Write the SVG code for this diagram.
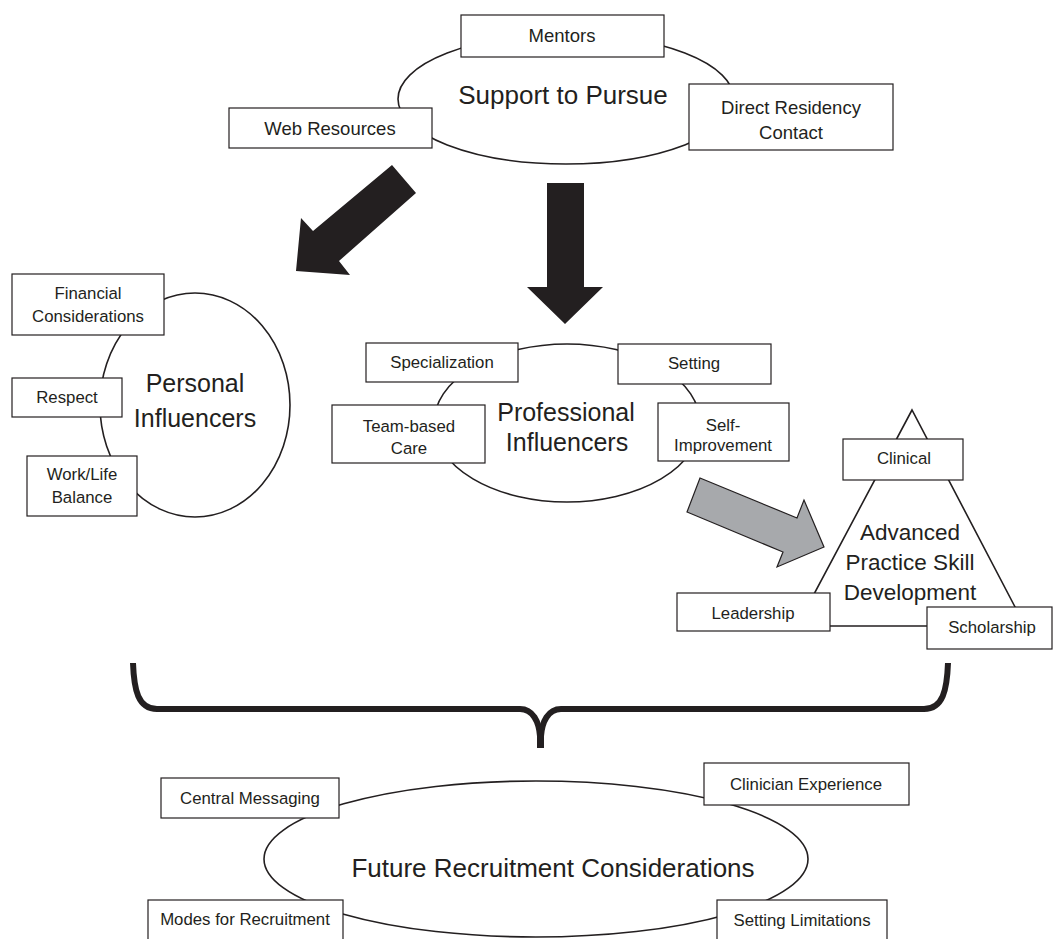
<svg xmlns="http://www.w3.org/2000/svg" width="1053" height="939" viewBox="0 0 1053 939">
<style>
.bg{fill:#ffffff}
.box{fill:#ffffff;stroke:#231f20;stroke-width:1.2}
.shape{fill:none;stroke:#231f20;stroke-width:1.6}
.t{font-family:"Liberation Sans",Arial,sans-serif;fill:#231f20;text-anchor:middle}
.s{font-size:16.8px}
.m{font-size:18.5px}
.l{font-size:25px}
.blk{fill:#231f20;stroke:none}
.gry{fill:#a7a9ac;stroke:#231f20;stroke-width:1.2}
.brace{fill:none;stroke:#231f20;stroke-width:6}
</style>
<rect class="bg" x="0" y="0" width="1053" height="939"/>

<g id="connectors">
  <polygon class="blk" points="392,165 416,193 339,261 350,275 296,271 301,218 313,231"/>
  <polygon class="blk" points="547,183 584,183 584,287 603,287 565,324 527,287 547,287"/>
  <polygon class="gry" points="700,478 797,518 804,500 824,547 777,567 783,552 687,512"/>
  <path class="brace" d="M133,663 C134,690 138,709 157,709 L520,709 C533,709 539,722 540,736 L540,748"/>
  <path class="brace" d="M948,663 C947,690 943,709 924,709 L561,709 C548,709 542,722 541,736 L541,748"/>
</g>

<g id="support-to-pursue">
  <ellipse class="shape" cx="566" cy="99" rx="168" ry="65"/>
  <text class="t l" x="563" y="104" style="font-size:26px">Support to Pursue</text>
</g>
<g id="mentors">
  <rect class="box" x="461" y="15" width="203" height="42"/>
  <text class="t m" x="562" y="42">Mentors</text>
</g>
<g id="web-resources">
  <rect class="box" x="229" y="108" width="203" height="40"/>
  <text class="t m" x="330" y="134.5">Web Resources</text>
</g>
<g id="direct-residency-contact">
  <rect class="box" x="689" y="84" width="204" height="66"/>
  <text class="t m" x="791" y="114">Direct Residency</text>
  <text class="t m" x="791" y="139">Contact</text>
</g>

<g id="personal-influencers">
  <ellipse class="shape" cx="195" cy="405" rx="95" ry="112"/>
  <text class="t l" x="195" y="392">Personal</text>
  <text class="t l" x="195" y="427">Influencers</text>
</g>
<g id="financial-considerations">
  <rect class="box" x="12" y="274" width="152" height="61"/>
  <text class="t s" x="88" y="299">Financial</text>
  <text class="t s" x="88" y="322">Considerations</text>
</g>
<g id="respect">
  <rect class="box" x="12" y="378" width="110" height="39"/>
  <text class="t s" x="67" y="403">Respect</text>
</g>
<g id="work-life-balance">
  <rect class="box" x="27" y="456" width="110" height="60"/>
  <text class="t s" x="82" y="480">Work/Life</text>
  <text class="t s" x="82" y="503">Balance</text>
</g>

<g id="professional-influencers">
  <ellipse class="shape" cx="567" cy="423" rx="133" ry="79"/>
  <text class="t l" x="566" y="421">Professional</text>
  <text class="t l" x="567" y="451">Influencers</text>
</g>
<g id="specialization">
  <rect class="box" x="366" y="343" width="152" height="39"/>
  <text class="t s" x="442" y="368">Specialization</text>
</g>
<g id="setting">
  <rect class="box" x="618" y="344" width="153" height="40"/>
  <text class="t s" x="694" y="369">Setting</text>
</g>
<g id="team-based-care">
  <rect class="box" x="332" y="405" width="153" height="58"/>
  <text class="t s" x="409" y="432">Team-based</text>
  <text class="t s" x="409" y="454">Care</text>
</g>
<g id="self-improvement">
  <rect class="box" x="658" y="403" width="131" height="58"/>
  <text class="t s" x="723" y="431">Self-</text>
  <text class="t s" x="723" y="451">Improvement</text>
</g>

<g id="advanced-practice-skill-development">
  <polygon class="shape" points="912,410 797,626 1025,626"/>
  <text class="t" x="910" y="540" style="font-size:22.5px">Advanced</text>
  <text class="t" x="910" y="570" style="font-size:22.5px">Practice Skill</text>
  <text class="t" x="910" y="600" style="font-size:22.5px">Development</text>
</g>
<g id="clinical">
  <rect class="box" x="843" y="439" width="120" height="41"/>
  <text class="t s" x="904" y="464">Clinical</text>
</g>
<g id="leadership">
  <rect class="box" x="677" y="593" width="153" height="38"/>
  <text class="t s" x="753" y="619">Leadership</text>
</g>
<g id="scholarship">
  <rect class="box" x="927" y="607" width="125" height="42"/>
  <text class="t s" x="992" y="633">Scholarship</text>
</g>

<g id="future-recruitment-considerations">
  <ellipse class="shape" cx="536" cy="859" rx="272" ry="78"/>
  <text class="t" x="553" y="877" style="font-size:26px">Future Recruitment Considerations</text>
</g>
<g id="central-messaging">
  <rect class="box" x="161" y="778" width="178" height="40"/>
  <text class="t s" x="250" y="804">Central Messaging</text>
</g>
<g id="clinician-experience">
  <rect class="box" x="704" y="763" width="205" height="42"/>
  <text class="t s" x="806" y="790">Clinician Experience</text>
</g>
<g id="modes-for-recruitment">
  <rect class="box" x="148" y="900" width="195" height="45"/>
  <text class="t s" x="245" y="925">Modes for Recruitment</text>
</g>
<g id="setting-limitations">
  <rect class="box" x="717" y="900" width="170" height="45"/>
  <text class="t s" x="802" y="926">Setting Limitations</text>
</g>
</svg>
